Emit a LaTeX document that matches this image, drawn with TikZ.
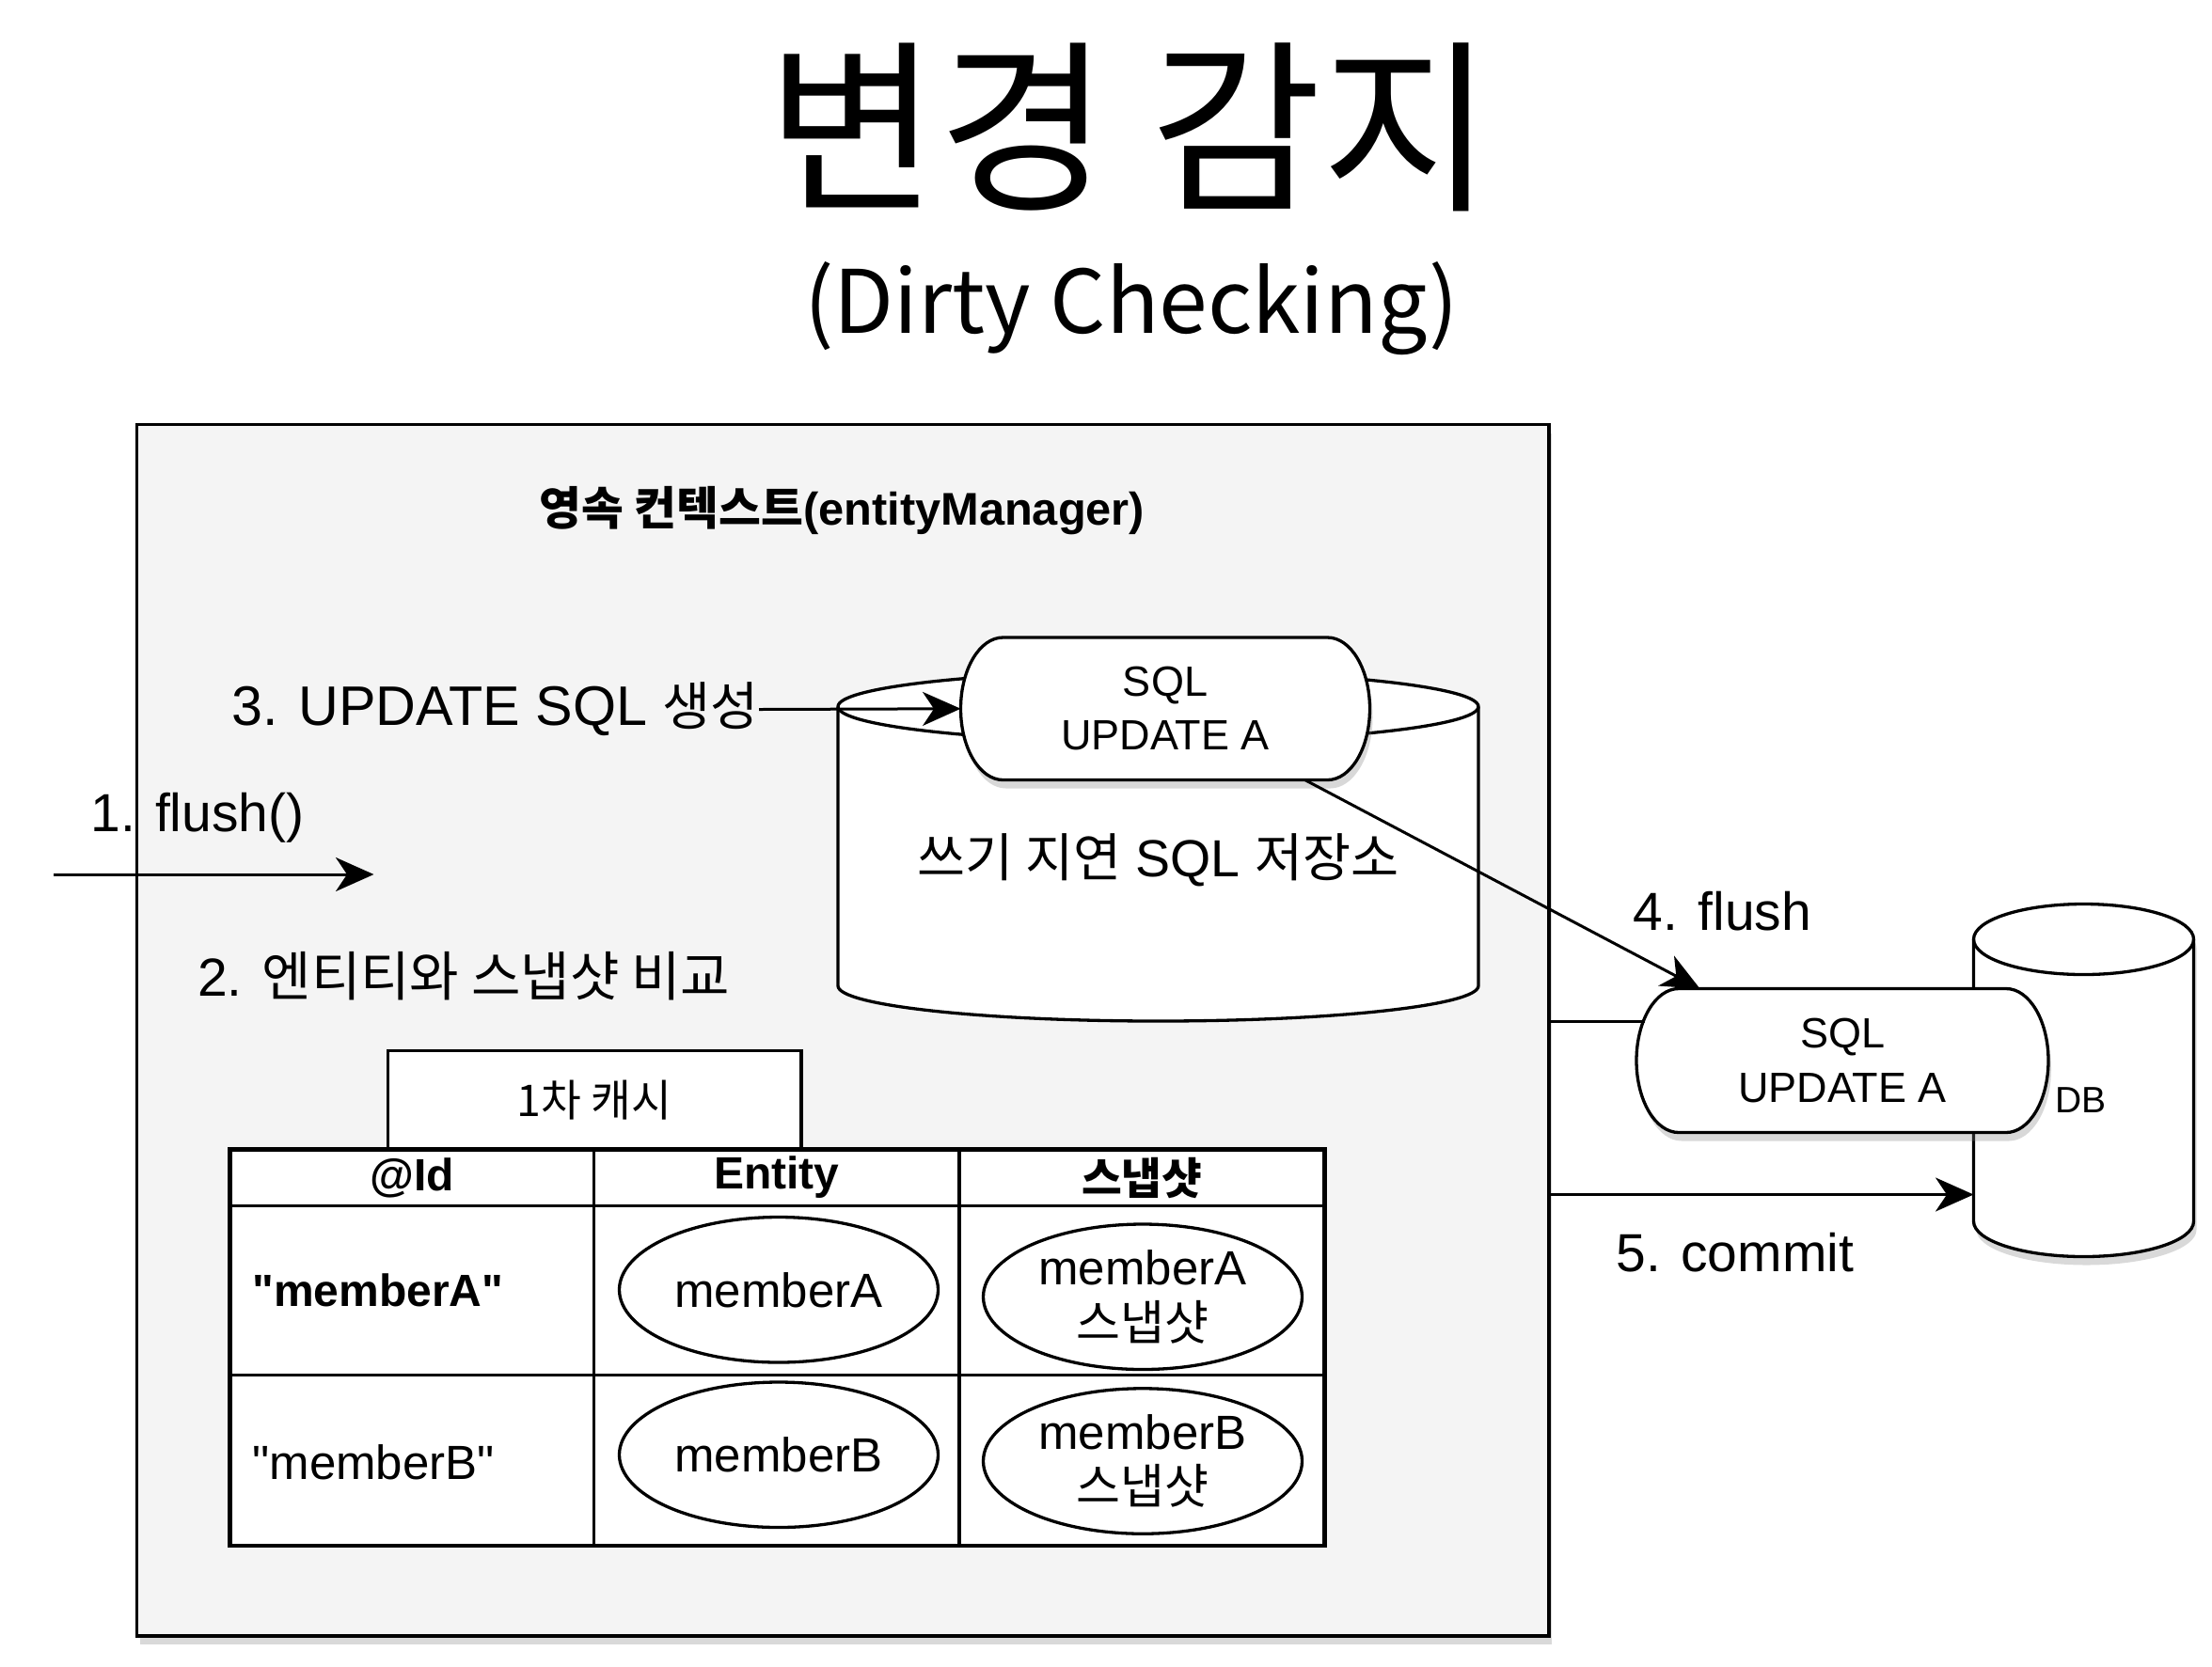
\documentclass[tikz,border=0pt]{standalone}
\usepackage{fontspec}
\setmainfont{Liberation Sans}
\newfontfamily\kr{Noto Sans CJK KR}
\usetikzlibrary{arrows.meta,shapes.geometric,shadows,calc}
\definecolor{boxgray}{HTML}{F4F4F4}
\newcommand\myfs[2]{\fontsize{#1}{#2}\selectfont}
\newcommand\sq{\XeTeXglyph\XeTeXglyphindex "quotedbl"\relax}
\tikzset{
  lw/.style={line width=2.2pt},
  arr/.style={line width=2pt,-{Stealth[length=27pt,width=24pt,inset=8pt]}},
  shad/.style={drop shadow={opacity=0.3,shadow xshift=2pt,shadow yshift=-6pt}},
  cell/.style={draw,line width=2.2pt,fill=white,anchor=center},
  ell/.style={draw,ellipse,line width=2.2pt,fill=white,minimum width=226pt,minimum height=103pt,align=center,font=\myfs{34}{39}},
  label/.style={font=\myfs{38}{44}},
}
\newcommand\pillat[4]{\draw[lw,fill=white,shad] ({#1-#3+30},{#2-#4}) -- ({#1+#3-30},{#2-#4}) arc[start angle=90,end angle=-90,x radius=30pt,y radius=#4pt] -- ({#1-#3+30},{#2+#4}) arc[start angle=270,end angle=90,x radius=30pt,y radius=#4pt] -- cycle;}
\begin{document}
\begin{tikzpicture}[x=1pt,y=-1pt,every node/.style={inner sep=0pt,outer sep=0pt}]
\useasboundingbox (0,0) rectangle (1568,1181.33);
% titles
\node[font=\kr\myfs{132}{140}] (title) at (801,90) {변경 감지};
\node[font=\kr\myfs{62}{70}] (subtitle) at (802,219) {(Dirty Checking)};
% persistence context box
\node[draw,line width=2.4pt,fill=boxgray,minimum width=1001pt,minimum height=859pt,shad] (pc) at (597.5,730.5) {};
\node[font=\bfseries\myfs{32.5}{36}] (pctitle) at (597,362) {{\kr 영속 컨텍스트}(entityManager)};
% write-behind store cylinder
\draw[lw,fill=white] (594,501) -- (594,699) arc[start angle=180,end angle=360,x radius=227pt,y radius=25pt] -- (1048,501) arc[start angle=0,end angle=180,x radius=227pt,y radius=25pt] -- cycle;
\draw[lw] (594,501) arc[start angle=180,end angle=360,x radius=227pt,y radius=25pt];
\node[font=\myfs{37}{40}] (store) at (821,610) {{\kr 쓰기 지연} SQL {\kr 저장소}};
% SQL pill 1
\pillat{826}{502.5}{145}{50.5}
\node[font=\myfs{30}{38},align=center,minimum width=290pt,minimum height=101pt] (sql1) at (826,502.5) {SQL\\UPDATE A};
% DB cylinder
\draw[lw,fill=white,shad] (1399,666) -- (1399,866) arc[start angle=180,end angle=360,x radius=78pt,y radius=25pt] -- (1555,666) arc[start angle=0,end angle=180,x radius=78pt,y radius=25pt] -- cycle;
\draw[lw] (1399,666) arc[start angle=180,end angle=360,x radius=78pt,y radius=25pt];
\node[font=\myfs{26}{30}] (db) at (1475,780) {DB};
% SQL pill 2
\pillat{1306}{752}{146}{51}
\node[font=\myfs{30}{39},align=center,minimum width=292pt,minimum height=102pt] (sql2) at (1306,752) {SQL\\UPDATE A};
% labels
\node[font=\myfs{39.5}{44},anchor=east] (t3) at (538,503) {3. UPDATE SQL {\kr\myfs{37}{44}생성}};
\node[label] (t1) at (140,580) {1. flush()};
\node[label,anchor=west] (t2) at (140,692) {2. {\kr\myfs{38}{44}엔티티와 스냅샷 비교}};
\node[label] (t4) at (1221,646) {4. flush};
\node[label] (t5) at (1230,888) {5. commit};
% cache
\node[cell,minimum width=293pt,minimum height=70pt,font=\kr\myfs{31}{36}] (cache) at (421.5,780) {1차 캐시};
% table header
\node[cell,minimum width=258pt,minimum height=40pt,font=\bfseries\myfs{32}{36}] (hid) at (292,835) {@Id};
\node[cell,minimum width=259pt,minimum height=40pt,font=\bfseries\myfs{32}{36}] (hent) at (550.5,835) {Entity};
\node[cell,minimum width=259pt,minimum height=40pt,font=\kr\bfseries\myfs{31}{36}] (hsnap) at (809.5,835) {스냅샷};
% rows
\node[cell,minimum width=258pt,minimum height=120pt] (r1c1) at (292,915) {};
\node[cell,minimum width=259pt,minimum height=120pt] (r1c2) at (550.5,915) {};
\node[cell,minimum width=259pt,minimum height=120pt] (r1c3) at (809.5,915) {};
\node[cell,minimum width=258pt,minimum height=121pt] (r2c1) at (292,1035.5) {};
\node[cell,minimum width=259pt,minimum height=121pt] (r2c2) at (550.5,1035.5) {};
\node[cell,minimum width=259pt,minimum height=121pt] (r2c3) at (809.5,1035.5) {};
\draw[line width=2.8pt] (hid.north west) rectangle (r2c3.south east);
\node[anchor=west,font=\bfseries\myfs{32}{36}] (idA) at (179,915) {\sq memberA\sq};
\node[anchor=west,font=\myfs{34}{38}] (idB) at (179,1037) {\sq memberB\sq};
\node[ell] (entA) at (552,914.5) {memberA};
\node[ell] (snapA) at (810,919.5) {memberA\\{\kr 스냅샷}};
\node[ell] (entB) at (552,1031.5) {memberB};
\node[ell] (snapB) at (810,1036) {memberB\\{\kr 스냅샷}};
% connectors
\coordinate (f0) at (38,620);
\coordinate (f1) at (265,620);
\draw[arr] (f0) -- (f1);
\draw[arr] (t3.east) -- (sql1.west);
\draw[arr] ([xshift=99pt]sql1.south) -- ([xshift=-101pt]sql2.north);
\coordinate (p2in) at (1166,724);
\draw[line width=2pt] (pc.east |- p2in) -- (p2in);
\coordinate (dbin) at (1399,847);
\draw[arr] (pc.east |- dbin) -- (dbin);
\end{tikzpicture}
\end{document}
